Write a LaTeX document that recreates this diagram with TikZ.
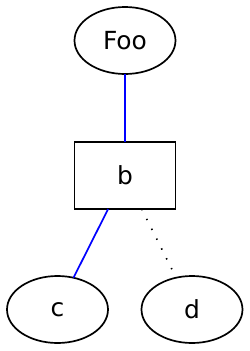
\documentclass[tikz,border=0pt]{standalone}
\usepackage{fontspec}
\setmainfont{DejaVu Sans}
\usetikzlibrary{shapes.geometric}
\begin{document}
\begin{tikzpicture}[x=1bp,y=-1bp,
  every node/.style={font=\fontsize{25}{30}\selectfont, line width=1.7bp, inner sep=0pt, outer sep=0pt},
  ell/.style={draw, ellipse, minimum width=101bp, minimum height=67bp},
  boxnode/.style={draw, rectangle, minimum width=101bp, minimum height=67bp},
  blueedge/.style={draw=blue, line width=1.7bp},
  dotedge/.style={draw=black, line width=1.6bp, dash pattern=on 1.4bp off 9.6bp}]
\useasboundingbox (0,0) rectangle (250,351);
\node[ell] (foo) at (125,40.5) {Foo};
\node[boxnode] (b) at (125,175.5) {b};
\node[ell] (c) at (57.5,309.5) {c};
\node[ell] (d) at (192,309.5) {d};
\draw[blueedge] (foo) -- (b);
\draw[blueedge] (b) -- (c);
\draw[dotedge] (b) -- (d);
\end{tikzpicture}
\end{document}
